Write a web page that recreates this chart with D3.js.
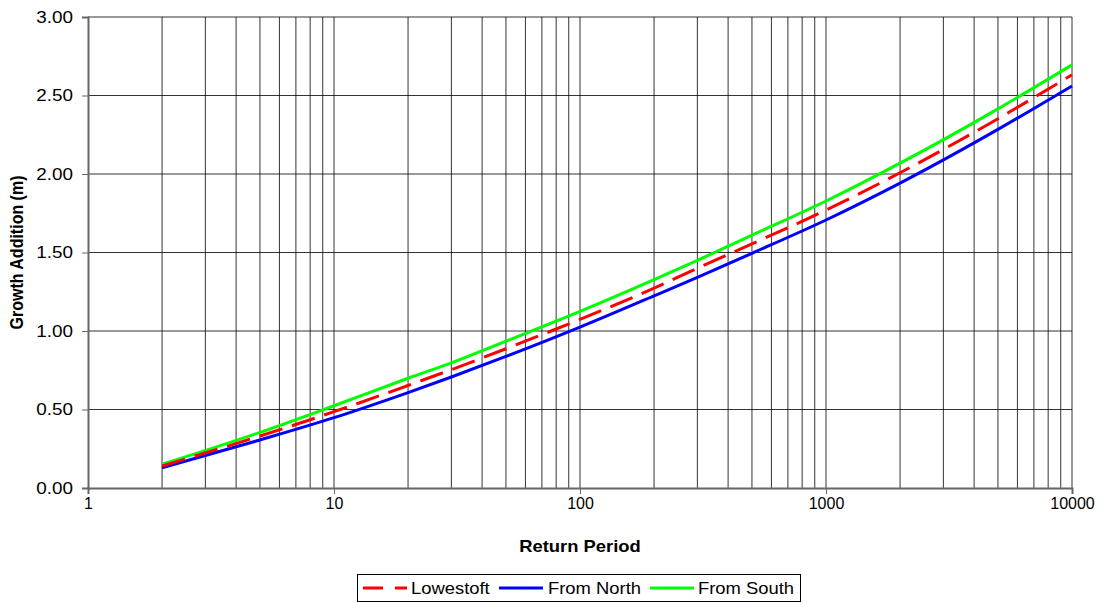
<!DOCTYPE html>
<html>
<head>
<meta charset="utf-8">
<script src="https://cdn.jsdelivr.net/npm/d3@7"></script>
<style>
  html, body { margin: 0; padding: 0; background: #fff; }
  svg { display: block; font-family: Arial, "Liberation Sans", sans-serif; }
</style>
</head>
<body>
<svg id="chart" width="1101" height="603"></svg>
<script>
// Return periods (years) at which the growth additions are tabulated
const returnPeriods = [2, 5, 10, 20, 30, 50, 100, 200, 300, 500, 1000, 2000, 5000, 10000];

// Growth addition (m) for each series
const lowestoft = [0.140, 0.331, 0.486, 0.653, 0.754, 0.887, 1.074, 1.273, 1.400, 1.555, 1.770, 2.008, 2.352, 2.632];
const fromNorth = [0.129, 0.306, 0.448, 0.608, 0.707, 0.838, 1.025, 1.224, 1.342, 1.495, 1.707, 1.942, 2.284, 2.561];
const fromSouth = [0.151, 0.354, 0.524, 0.699, 0.797, 0.935, 1.125, 1.327, 1.450, 1.610, 1.828, 2.069, 2.415, 2.695];

const seriesNames = ["Lowestoft", "From North", "From South"];
const seriesColors = ["#FF0000", "#0000FF", "#00FF00"];
const seriesValues = [lowestoft, fromNorth, fromSouth];

const xTickValues = [1, 10, 100, 1000, 10000];
const yTickValues = [0, 0.5, 1.0, 1.5, 2.0, 2.5, 3.0];

const svg = d3.select("#chart");
const plot = { left: 88, top: 17, right: 1072, bottom: 488 };
const FONT = "Arial, 'Liberation Sans', sans-serif";
const WIDEN = 1.15; // text is set slightly wide

const x = d3.scaleLog().domain([1, 10000]).range([plot.left, plot.right]);
const y = d3.scaleLinear().domain([0, 3]).range([plot.bottom, plot.top]);

// Vertical grid: every integer multiple within each decade
const minorX = [];
for (let d = 1; d <= 1000; d *= 10) {
  for (let m = 1; m <= 9; m++) {
    const v = d * m;
    if (v > 1) minorX.push(v);
  }
}
minorX.push(10000);

const grid = svg.append("g");
grid.selectAll("line.vx").data(minorX).join("line")
  .attr("class", "vx")
  .attr("x1", d => x(d)).attr("x2", d => x(d))
  .attr("y1", plot.top).attr("y2", plot.bottom)
  .attr("stroke", "#000").attr("stroke-width", 1).attr("stroke-opacity", 0.8);

grid.selectAll("line.hy").data(yTickValues.filter(v => v > 0)).join("line")
  .attr("class", "hy")
  .attr("x1", plot.left).attr("x2", plot.right)
  .attr("y1", d => y(d)).attr("y2", d => y(d))
  .attr("stroke", "#000").attr("stroke-width", 1).attr("stroke-opacity", 0.8);

// Axes
const yAxis = d3.axisLeft(y).tickValues(yTickValues).tickFormat(d3.format(".2f")).tickSize(6).tickPadding(0);
const gy = svg.append("g").attr("transform", `translate(${plot.left},0)`).call(yAxis);
gy.select(".domain").attr("stroke", "#666").attr("stroke-width", 2);
gy.selectAll(".tick line").attr("stroke", "#666").attr("stroke-width", 1);
gy.selectAll(".tick text")
  .attr("font-size", 16).attr("fill", "#000").attr("font-family", FONT)
  .attr("x", -15 / 1.18)
  .attr("transform", "scale(1.18,1)");

const xAxis = d3.axisBottom(x).tickValues(xTickValues).tickFormat(d3.format("d")).tickSize(6).tickPadding(4);
const gx = svg.append("g").attr("transform", `translate(0,${plot.bottom})`).call(xAxis);
gx.select(".domain").attr("stroke", "#666").attr("stroke-width", 2);
gx.selectAll(".tick line").attr("stroke", "#666").attr("stroke-width", 1);
gx.selectAll(".tick text").attr("font-size", 16).attr("fill", "#000").attr("font-family", FONT);

// Axis titles
svg.append("text")
  .attr("transform", `translate(${(plot.left + plot.right) / 2},552) scale(${WIDEN},1)`)
  .attr("text-anchor", "middle").attr("font-size", 16).attr("font-weight", "bold")
  .text("Return Period");

svg.append("text")
  .attr("transform", `translate(23,${(plot.top + plot.bottom) / 2}) rotate(-90) scale(1,${WIDEN})`)
  .attr("text-anchor", "middle").attr("font-size", 16).attr("font-weight", "bold")
  .text("Growth Addition (m)");

// Series lines
const line = d3.line()
  .x((d, i) => x(returnPeriods[i]))
  .y(d => y(d))
  .curve(d3.curveMonotoneX);

const order = [1, 2, 0]; // Lowestoft drawn last so its dashes sit on top
order.forEach(k => {
  svg.append("path")
    .datum(seriesValues[k])
    .attr("d", line)
    .attr("fill", "none")
    .attr("stroke", seriesColors[k])
    .attr("stroke-width", 3)
    .attr("stroke-dasharray", k === 0 ? "24,10" : null);
});

// Legend
const legend = svg.append("g");
legend.append("rect")
  .attr("x", 357.5).attr("y", 574.5).attr("width", 443).attr("height", 27)
  .attr("fill", "#fff").attr("stroke", "#000").attr("stroke-width", 1);

const legendItems = [
  { sx: 363, tx: 411 },
  { sx: 499, tx: 548 },
  { sx: 650, tx: 698 }
];
legendItems.forEach((it, k) => {
  legend.append("line")
    .attr("x1", it.sx).attr("x2", it.sx + 44)
    .attr("y1", 588).attr("y2", 588)
    .attr("stroke", seriesColors[k]).attr("stroke-width", 3)
    .attr("stroke-dasharray", k === 0 ? "20,12" : null);
  legend.append("text")
    .attr("transform", `translate(${it.tx},594) scale(${WIDEN},1)`)
    .attr("font-size", 16)
    .text(seriesNames[k]);
});
</script>
</body>
</html>
